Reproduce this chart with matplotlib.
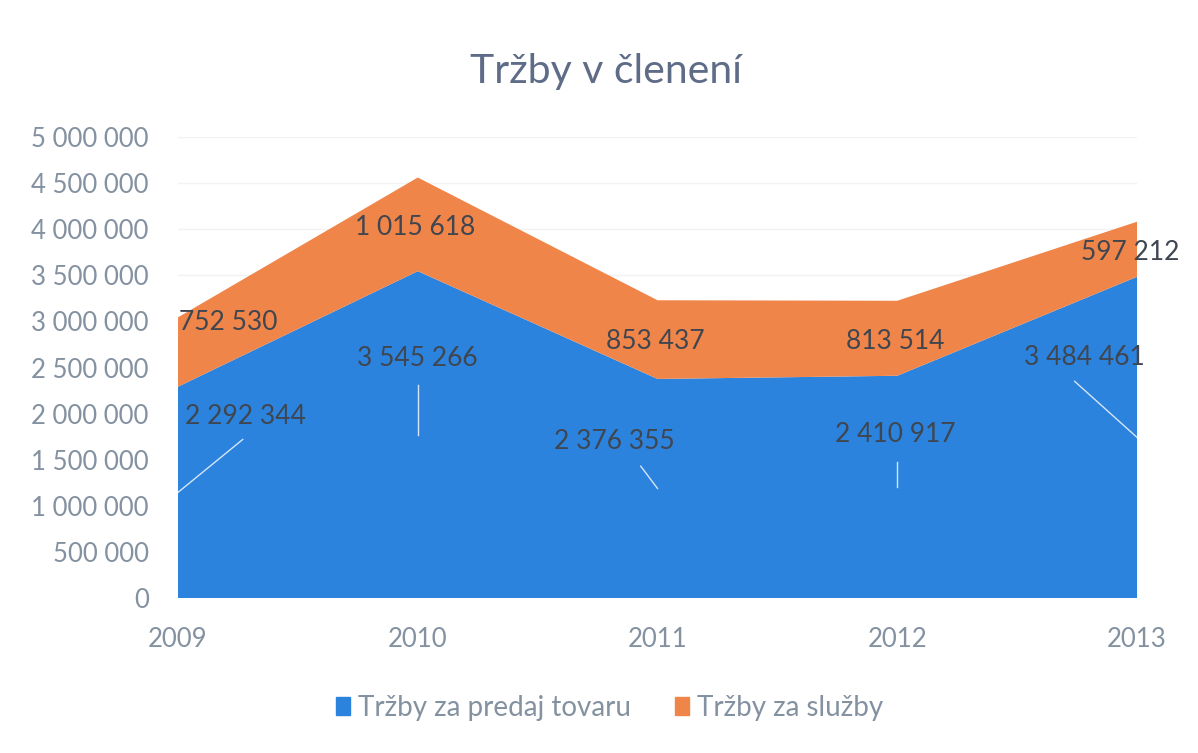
import matplotlib
matplotlib.use("Agg")
import matplotlib.pyplot as plt
from matplotlib.ticker import FuncFormatter, MultipleLocator
from matplotlib.patches import Rectangle

years = ["2009", "2010", "2011", "2012", "2013"]
tovar = [2292344, 3545266, 2376355, 2410917, 3484461]
sluzby = [752530, 1015618, 853437, 813514, 597212]
series_names = ["Tržby za predaj tovaru", "Tržby za služby"]

blue = "#2b83dd"
orange = "#f08549"
tick_color = "#8391a0"
title_color = "#5f6c88"
label_color = "#404650"

plt.rcParams["font.family"] = ["Lato", "DejaVu Sans"]

fig = plt.figure(figsize=(11.98, 7.53), dpi=100)
ax = fig.add_axes([0.1486, 0.2058, 0.8005, 0.6122])

x = list(range(len(years)))
ax.stackplot(x, tovar, sluzby, colors=[blue, orange], linewidth=0, zorder=2)

ax.set_xlim(0, len(years) - 1)
ax.set_ylim(0, 5000000)
ax.yaxis.set_major_locator(MultipleLocator(500000))
ax.yaxis.set_major_formatter(FuncFormatter(lambda v, p: f"{int(v):,}".replace(",", " ")))
ax.set_xticks(x)
ax.set_xticklabels(years)
ax.grid(axis="y", color="#f2f2f2", linewidth=1.0, zorder=0)
for s in ax.spines.values():
    s.set_visible(False)
ax.tick_params(axis="both", length=0, colors=tick_color, labelsize=18.5)
ax.tick_params(axis="y", pad=21)
ax.tick_params(axis="x", pad=21)

# label placement (data-space positions of label centres and leader-line starts)
blue_lab_pos = [(0.28, 1.97e6), (1.0, 2.60e6), (1.82, 1.70e6), (2.99, 1.77e6), (3.78, 2.61e6)]
orange_lab_pos = [(0.21, 2.99e6), (0.99, 4.02e6), (1.99, 2.78e6), (2.99, 2.78e6), (3.97, 3.75e6)]
leader_start = [(0.27, 1.72e6), (1.0, 2.31e6), (1.93, 1.43e6), (3.0, 1.48e6), (3.74, 2.35e6)]

fmt = lambda v: f"{v:,}".replace(",", " ")
for i in x:
    mid = tovar[i] / 2
    ax.plot([leader_start[i][0], i], [leader_start[i][1], mid], color="white",
            linewidth=1.0, alpha=0.8, zorder=3, clip_on=False)
    ax.text(blue_lab_pos[i][0], blue_lab_pos[i][1], fmt(tovar[i]), ha="center", va="center",
            fontsize=19, color=label_color, zorder=4)
    ax.text(orange_lab_pos[i][0], orange_lab_pos[i][1], fmt(sluzby[i]), ha="center", va="center",
            fontsize=19, color=label_color, zorder=4, clip_on=False)

fig.text(0.506, 0.905, "Tržby v členení", ha="center", va="center", fontsize=29.5, color=title_color)

# legend
handles = [Rectangle((0, 0), 1, 1, color=blue), Rectangle((0, 0), 1, 1, color=orange)]
fig.legend(handles, series_names, loc="center", bbox_to_anchor=(0.509, 0.06), ncol=2,
           frameon=False, fontsize=20, labelcolor=tick_color, handlelength=0.5,
           handleheight=0.6, handletextpad=0.28, columnspacing=1.6)

fig.savefig("out.png", dpi=100)
